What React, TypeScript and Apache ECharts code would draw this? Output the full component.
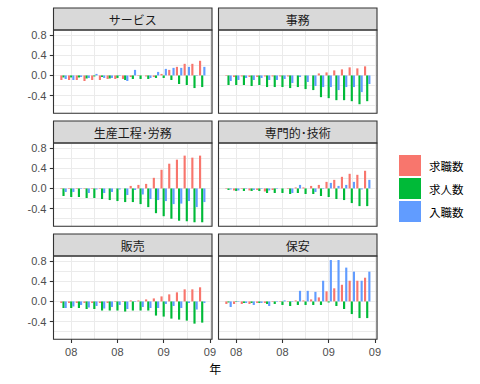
import React, { useEffect, useRef } from 'react';
import * as echarts from 'echarts';

// ---- data ----
const months = [
  '2007-12', '2008-01', '2008-02', '2008-03', '2008-04', '2008-05', '2008-06', '2008-07', '2008-08',
  '2008-09', '2008-10', '2008-11', '2008-12', '2009-01', '2009-02', '2009-03', '2009-04', '2009-05', '2009-06',
];
const facetNames = ['サービス', '事務', '生産工程･労務', '専門的･技術', '販売', '保安'];
const seriesNames = ['求職数', '求人数', '入職数'];
const seriesColors = ['#F8766D', '#00BA38', '#619CFF'];
const xTickMonths = ['2008-01', '2008-07', '2009-01', '2009-07'];
const yTicks = [-0.4, 0, 0.4, 0.8];

const service_kyushoku = [-0.09, -0.09, -0.09, -0.11, -0.09, -0.09, -0.07, -0.07, -0.07, -0.03, -0.01, -0.02, -0.03, 0.03, 0.11, 0.17, 0.23, 0.23, 0.29];
const service_kyujin = [-0.04, -0.04, -0.04, -0.06, -0.02, -0.03, -0.06, -0.05, -0.09, -0.07, -0.07, -0.07, -0.05, -0.05, -0.09, -0.17, -0.19, -0.25, -0.23];
const service_nyushoku = [-0.07, -0.09, -0.03, -0.05, 0.03, -0.05, -0.05, -0.01, -0.11, 0.11, 0.0, -0.05, 0.07, 0.13, 0.15, 0.15, 0.17, -0.01, 0.17];

const jimu_kyushoku = [-0.01, -0.03, -0.02, -0.03, -0.03, -0.02, -0.02, -0.02, -0.02, 0.0, 0.0, 0.0, 0.04, 0.06, 0.1, 0.12, 0.16, 0.14, 0.18];
const jimu_kyujin = [-0.19, -0.19, -0.19, -0.21, -0.19, -0.23, -0.23, -0.23, -0.25, -0.23, -0.27, -0.29, -0.43, -0.45, -0.49, -0.49, -0.51, -0.57, -0.51];
const jimu_nyushoku = [-0.11, -0.09, -0.05, -0.09, -0.05, -0.09, -0.09, -0.07, -0.15, -0.03, -0.13, -0.21, -0.23, -0.23, -0.29, -0.23, -0.23, -0.33, -0.17];

const seisan_kyushoku = [-0.01, -0.01, -0.01, -0.01, -0.01, -0.01, 0, 0, 0, 0.05, 0.07, 0.09, 0.21, 0.37, 0.49, 0.57, 0.65, 0.61, 0.65];
const seisan_kyujin = [-0.15, -0.17, -0.17, -0.19, -0.19, -0.21, -0.23, -0.25, -0.27, -0.27, -0.31, -0.37, -0.49, -0.55, -0.6, -0.64, -0.65, -0.67, -0.67];
const seisan_nyushoku = [-0.07, -0.07, -0.01, -0.09, -0.02, -0.09, -0.07, -0.02, -0.13, -0.03, -0.12, -0.21, -0.23, -0.25, -0.31, -0.3, -0.25, -0.37, -0.27];

const senmon_kyushoku = [-0.01, -0.04, -0.01, -0.04, -0.03, -0.06, -0.03, 0, -0.01, 0.02, 0.02, 0.05, 0.07, 0.13, 0.17, 0.23, 0.29, 0.27, 0.35];
const senmon_kyujin = [-0.03, -0.05, -0.05, -0.05, -0.05, -0.09, -0.09, -0.09, -0.11, -0.09, -0.11, -0.11, -0.15, -0.17, -0.21, -0.23, -0.29, -0.35, -0.35];
const senmon_nyushoku = [-0.02, -0.04, -0.01, -0.03, -0.01, -0.04, -0.01, 0, -0.09, 0.07, 0.0, -0.07, -0.01, 0.11, 0.05, 0.07, 0.13, -0.02, 0.17];

const hanbai_kyushoku = [-0.03, -0.03, -0.03, -0.03, -0.03, -0.03, -0.03, -0.01, -0.01, 0.02, 0.02, 0.04, 0.06, 0.1, 0.14, 0.18, 0.24, 0.24, 0.28];
const hanbai_kyujin = [-0.13, -0.13, -0.13, -0.15, -0.15, -0.18, -0.18, -0.18, -0.2, -0.18, -0.18, -0.18, -0.28, -0.3, -0.34, -0.36, -0.38, -0.44, -0.42];
const hanbai_nyushoku = [-0.13, -0.1, -0.07, -0.12, -0.09, -0.14, -0.11, -0.07, -0.15, -0.01, -0.11, -0.13, -0.13, -0.05, -0.09, -0.13, -0.03, -0.16, -0.03];

const hoan_kyushoku = [-0.05, -0.05, -0.05, -0.05, -0.03, -0.03, -0.01, -0.01, -0.01, 0.02, 0.02, 0.04, 0.08, 0.2, 0.26, 0.33, 0.41, 0.41, 0.47];
const hoan_kyujin = [-0.02, -0.01, -0.03, -0.03, -0.03, -0.05, -0.05, -0.07, -0.09, -0.07, -0.07, -0.07, -0.07, -0.02, -0.09, -0.15, -0.25, -0.33, -0.33];
const hoan_nyushoku = [-0.11, -0.01, -0.03, -0.07, -0.03, -0.09, -0.01, 0.02, -0.01, 0.21, 0.21, 0.19, 0.41, 0.82, 0.82, 0.67, 0.59, 0.41, 0.59];

const facetValues = [
  [service_kyushoku, service_kyujin, service_nyushoku],
  [jimu_kyushoku, jimu_kyujin, jimu_nyushoku],
  [seisan_kyushoku, seisan_kyujin, seisan_nyushoku],
  [senmon_kyushoku, senmon_kyujin, senmon_nyushoku],
  [hanbai_kyushoku, hanbai_kyujin, hanbai_nyushoku],
  [hoan_kyushoku, hoan_kyujin, hoan_nyushoku],
];

// ---- layout ----
const COLS = [53.5, 218.5];
const PW = 158.5;
const STRIP_TOPS = [8, 121, 234];
const SH = 22;
const PH = 83.3;
const X_MIN = -2.3;
const X_MAX = 18.27;
const Y_MIN = -0.75;
const Y_MAX = 0.9;
const LATIN = '"Liberation Sans", Arial, sans-serif';
const CJK = '"Noto Sans CJK JP", sans-serif';

const monthIndex = (m: string) => {
  const [y, mo] = m.split('-').map(Number);
  return (y - 2008) * 12 + (mo - 1);
};
const xTickVals = xTickMonths.map(monthIndex);

function buildOption() {
  const grid: any[] = [];
  const xAxis: any[] = [];
  const yAxis: any[] = [];
  const series: any[] = [];
  const graphic: any[] = [];

  facetNames.forEach((name, g) => {
    const r = Math.floor(g / 2);
    const c = g % 2;
    const left = COLS[c];
    const top = STRIP_TOPS[r] + SH;
    grid.push({ left, top, width: PW, height: PH, show: false, containLabel: false, outerBoundsMode: 'none' });

    xAxis.push({
      type: 'value', gridIndex: g, min: X_MIN, max: X_MAX, position: 'bottom',
      axisLine: { show: false, onZero: false },
      splitLine: { show: false },
      axisTick: { show: r === 2, customValues: xTickVals, length: 3.7, lineStyle: { color: '#333333', width: 1.1 } },
      axisLabel: {
        show: r === 2, customValues: xTickVals, margin: 7, color: '#4D4D4D', fontSize: 11, fontFamily: LATIN,
        formatter: (v: number) => {
          const i = xTickVals.indexOf(Math.round(v));
          return i >= 0 ? xTickMonths[i].slice(2, 4) : '';
        },
      },
    });
    xAxis.push({
      type: 'value', gridIndex: g, min: X_MIN, max: X_MAX, position: 'bottom',
      minInterval: 3, maxInterval: 3,
      axisLine: { show: false, onZero: false }, axisTick: { show: false }, axisLabel: { show: false },
      splitLine: { show: true, lineStyle: { color: '#EBEBEB', width: 1 } },
    });
    yAxis.push({
      type: 'value', gridIndex: g, min: Y_MIN, max: Y_MAX, position: 'left',
      axisLine: { show: false, onZero: false },
      splitLine: { show: false },
      axisTick: { show: c === 0, customValues: yTicks, length: 3.7, lineStyle: { color: '#333333', width: 1.1 } },
      axisLabel: {
        show: c === 0, customValues: yTicks, margin: 7, color: '#4D4D4D', fontSize: 11, fontFamily: LATIN,
        formatter: (v: number) => v.toFixed(1),
      },
    });
    yAxis.push({
      type: 'value', gridIndex: g, min: Y_MIN, max: Y_MAX, position: 'left',
      minInterval: 0.2, maxInterval: 0.2,
      axisLine: { show: false, onZero: false }, axisTick: { show: false }, axisLabel: { show: false },
      splitLine: { show: true, lineStyle: { color: '#EBEBEB', width: 1 } },
    });

    facetValues[g].forEach((vals, s) => {
      series.push({
        type: 'bar', name: seriesNames[s], xAxisIndex: 2 * g, yAxisIndex: 2 * g,
        data: months.map((m, i) => [monthIndex(m), vals[i]]),
        barWidth: 2.15, barGap: '0%',
        itemStyle: { color: seriesColors[s] },
        z: 2, silent: true,
      });
    });

    graphic.push({
      type: 'rect', silent: true, z: 100,
      shape: { x: left, y: STRIP_TOPS[r], width: PW, height: SH },
      style: { fill: '#D9D9D9', stroke: '#333333', lineWidth: 1.1 },
    });
    graphic.push({
      type: 'text', silent: true, z: 101,
      x: left + PW / 2, y: STRIP_TOPS[r] + SH / 2 + 0.5,
      style: {
        text: name, fill: '#1A1A1A', font: `12px ${CJK}`,
        textAlign: 'center', textVerticalAlign: 'middle', align: 'center', verticalAlign: 'middle',
      },
    });
    graphic.push({
      type: 'rect', silent: true, z: 100,
      shape: { x: left, y: top, width: PW, height: PH },
      style: { fill: 'none', stroke: '#333333', lineWidth: 1.1 },
    });
  });

  graphic.push({
    type: 'text', silent: true, z: 101,
    x: (COLS[0] + COLS[1] + PW) / 2, y: 368,
    style: {
      text: '年', fill: '#000000', font: `12px ${CJK}`,
      textAlign: 'center', textVerticalAlign: 'middle', align: 'center', verticalAlign: 'middle',
    },
  });

  return {
    animation: false,
    backgroundColor: '#FFFFFF',
    tooltip: { show: false },
    legend: {
      data: seriesNames,
      orient: 'vertical',
      left: 399, top: 155,
      itemWidth: 22, itemHeight: 21, itemGap: 2,
      icon: 'rect',
      selectedMode: false,
      padding: 0,
      itemStyle: { borderWidth: 0 },
      textStyle: { fontSize: 11.5, color: '#000000', fontFamily: CJK, padding: [0, 0, 0, 3] },
    },
    grid, xAxis, yAxis, series, graphic,
  };
}

export default function App() {
  const ref = useRef<HTMLDivElement>(null);
  useEffect(() => {
    document.body.style.margin = '0';
    if (!ref.current) return;
    const chart = echarts.init(ref.current, undefined, { renderer: 'svg' });
    chart.setOption(buildOption() as any);
    return () => chart.dispose();
  }, []);
  return (
    <div
      ref={ref}
      style={{ position: 'fixed', left: 0, top: 0, width: 480, height: 384, background: '#fff' }}
    />
  );
}
